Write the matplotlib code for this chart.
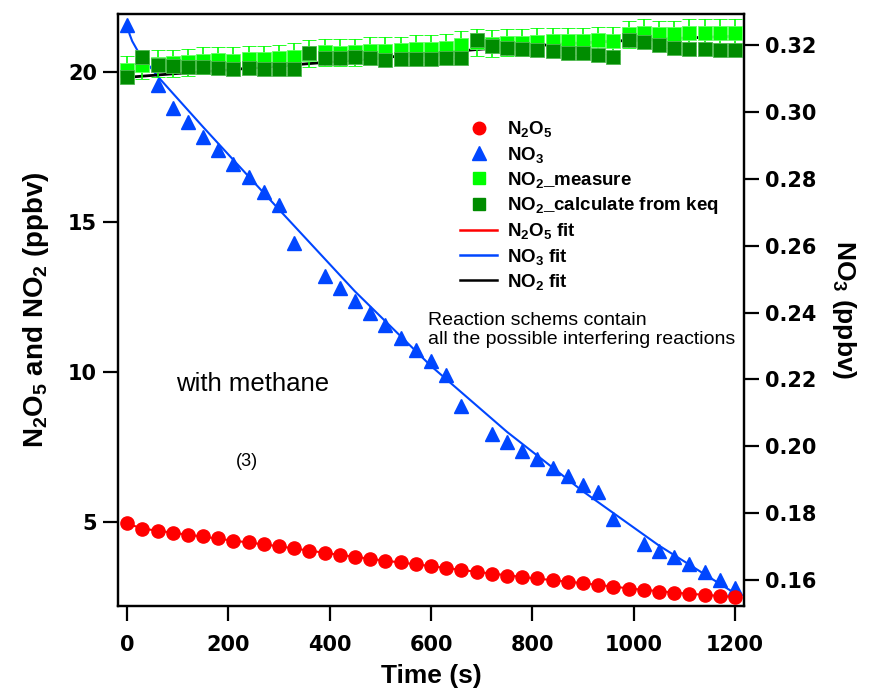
import matplotlib
matplotlib.use("Agg")
import matplotlib.pyplot as plt
from matplotlib.lines import Line2D
from matplotlib.font_manager import FontProperties

plt.rcParams['font.family'] = ['Liberation Sans', 'DejaVu Sans']
plt.rcParams['mathtext.default'] = 'regular'

# ---------------- data ----------------
time = [0, 30, 60, 90, 120, 150, 180, 210, 240, 270, 300, 330, 360, 390, 420, 450,
        480, 510, 540, 570, 600, 630, 660, 690, 720, 750, 780, 810, 840, 870, 900,
        930, 960, 990, 1020, 1050, 1080, 1110, 1140, 1170, 1200]

n2o5 = [4.95, 4.77, 4.71, 4.64, 4.58, 4.52, 4.45, 4.38, 4.32, 4.26, 4.20, 4.13,
        4.02, 3.95, 3.89, 3.83, 3.77, 3.71, 3.66, 3.60, 3.53, 3.46, 3.41, 3.34,
        3.28, 3.20, 3.16, 3.12, 3.06, 3.00, 2.97, 2.91, 2.85, 2.78, 2.72, 2.68,
        2.64, 2.61, 2.58, 2.55, 2.50]

no2_measure = [20.08, 20.23, 20.28, 20.29, 20.33, 20.37, 20.39, 20.37, 20.43, 20.43,
               20.46, 20.51, 20.61, 20.66, 20.64, 20.66, 20.71, 20.71, 20.72, 20.77,
               20.77, 20.80, 20.90, 20.99, 20.94, 20.97, 20.98, 21.00, 21.02, 21.03,
               21.03, 21.06, 21.04, 21.26, 21.30, 21.26, 21.26, 21.30, 21.30, 21.31,
               21.31]
no2_measure_err = [0.45] * 41

no2_calc = [19.82, 20.51, 20.23, 20.21, 20.18, 20.16, 20.14, 20.11, 20.12, 20.09,
            20.10, 20.10, 20.62, 20.47, 20.47, 20.49, 20.46, 20.41, 20.44, 20.44,
            20.44, 20.47, 20.47, 21.07, 20.87, 20.80, 20.78, 20.73, 20.69, 20.64,
            20.64, 20.57, 20.50, 21.07, 20.99, 20.89, 20.80, 20.78, 20.78, 20.73,
            20.73]

no3_time = [0, 60, 90, 120, 150, 180, 210, 240, 270, 300, 330, 390, 420, 450, 480,
            510, 540, 570, 600, 630, 660, 720, 750, 780, 810, 840, 870, 900, 930,
            960, 1020, 1050, 1080, 1110, 1140, 1170, 1200]
no3 = [0.3260, 0.3081, 0.3011, 0.2969, 0.2926, 0.2886, 0.2845, 0.2805, 0.2762,
       0.2722, 0.2608, 0.2508, 0.2474, 0.2434, 0.2399, 0.2364, 0.2324, 0.2287,
       0.2255, 0.2212, 0.2120, 0.2036, 0.2013, 0.1986, 0.1961, 0.1936, 0.1911,
       0.1884, 0.1862, 0.1782, 0.1707, 0.1687, 0.1668, 0.1648, 0.1625, 0.1601,
       0.1575]

fit_time_no3 = [0, 5, 10, 20, 40, 60, 150, 300, 450, 600, 750, 900, 1050, 1200]
no3_fit = [0.3260, 0.3232, 0.3212, 0.3185, 0.3145, 0.3107, 0.2955, 0.2708, 0.2463,
           0.2240, 0.2043, 0.1865, 0.1703, 0.1560]

fit_time = [0, 30, 100, 200, 300, 400, 500, 600, 700, 800, 900, 1000, 1100, 1200]
n2o5_fit = [4.95, 4.78, 4.62, 4.40, 4.19, 3.95, 3.73, 3.53, 3.32, 3.13, 2.96, 2.77,
            2.62, 2.50]
no2_fit_time = [0, 100, 200, 300, 400, 500, 600, 700, 800, 900, 1000, 1100, 1200]
no2_fit = [19.82, 19.95, 20.07, 20.20, 20.33, 20.47, 20.62, 20.76, 20.87, 20.97,
           21.06, 21.13, 21.19]

xticks = [0, 200, 400, 600, 800, 1000, 1200]
left_ticks = [5, 10, 15, 20]
right_ticks = [0.16, 0.18, 0.20, 0.22, 0.24, 0.26, 0.28, 0.30, 0.32]

# ---------------- colours ----------------
RED = '#ff0000'
BLUE = '#0046ff'
LIME = '#00ff00'
DKGREEN = '#008c00'

# ---------------- figure ----------------
fig = plt.figure(figsize=(8.78, 6.91), dpi=100)
ax_r = fig.add_axes([0.1344, 0.123, 0.7130, 0.8567])   # host: NO3 (right scale)
ax_l = ax_r.twinx()                                     # N2O5 / NO2 (left scale)

# right-scale (NO3) on host axes, drawn underneath
ax_r.plot(fit_time_no3, no3_fit, color=BLUE, lw=1.5, zorder=2)
ax_r.plot(no3_time, no3, linestyle='none', marker='^', ms=10.5, color=BLUE,
          mec=BLUE, zorder=3)

# left-scale data
ax_l.plot(fit_time, n2o5_fit, color=RED, lw=1.5, zorder=2)
ax_l.plot(time, n2o5, linestyle='none', marker='o', ms=9.5, color=RED, mec=RED, zorder=3)
ax_l.plot(no2_fit_time, no2_fit, color='black', lw=2, zorder=2)
ax_l.errorbar(time, no2_measure, yerr=no2_measure_err, fmt='s', ms=10.5,
              color=LIME, mec='#66ff66', mew=0.6, ecolor=LIME, elinewidth=1.2,
              capsize=5, capthick=1.2, zorder=3)
ax_l.plot(time, no2_calc, linestyle='none', marker='s', ms=10, color=DKGREEN,
          mec='#4fb84f', mew=0.6, zorder=4)

# axes config
ax_r.set_xlim(-18, 1218)
ax_r.set_ylim(0.1522, 0.3293)
ax_l.set_ylim(2.2, 21.93)

ax_r.yaxis.tick_right()
ax_r.yaxis.set_label_position('right')
ax_l.yaxis.tick_left()
ax_l.yaxis.set_label_position('left')

ax_r.set_xticks(xticks)
ax_r.set_yticks(right_ticks)
ax_r.set_yticklabels([f'{v:.2f}' for v in right_ticks])
ax_l.set_yticks(left_ticks)

tickfont = FontProperties(family='DejaVu Sans', weight='bold', size=15)
for axis in (ax_r, ax_l):
    axis.tick_params(axis='both', direction='out', length=11, width=1.6)
    axis.tick_params(axis='y', pad=4)
    axis.tick_params(axis='x', pad=10)
    for lab in axis.get_xticklabels() + axis.get_yticklabels():
        lab.set_fontproperties(tickfont)
    for sp in axis.spines.values():
        sp.set_linewidth(1.6)

ax_r.set_xlabel('Time (s)', fontsize=19, fontweight='bold', labelpad=6)
ax_l.set_ylabel('N$_2$O$_5$ and NO$_2$ (ppbv)', fontsize=20, fontweight='bold', labelpad=12)
ax_r.set_ylabel('NO$_3$ (ppbv)', fontsize=19, fontweight='bold', rotation=270,
                labelpad=30)

# legend
handles = [
    Line2D([], [], linestyle='none', marker='o', ms=9, color=RED),
    Line2D([], [], linestyle='none', marker='^', ms=10, color=BLUE),
    Line2D([], [], linestyle='none', marker='s', ms=9, color=LIME),
    Line2D([], [], linestyle='none', marker='s', ms=9, color=DKGREEN),
    Line2D([], [], color=RED, lw=1.8),
    Line2D([], [], color=BLUE, lw=1.8),
    Line2D([], [], color='black', lw=1.8),
]
labels = ['N$_2$O$_5$', 'NO$_3$', 'NO$_2$_measure', 'NO$_2$_calculate from keq',
          'N$_2$O$_5$ fit', 'NO$_3$ fit', 'NO$_2$ fit']
leg = ax_l.legend(handles, labels, loc='upper left', bbox_to_anchor=(0.546, 0.822),
                  frameon=False, prop=dict(family='Liberation Sans', weight='bold', size=13.5),
                  handlelength=2.0, handletextpad=0.5, labelspacing=0.28,
                  borderaxespad=0, borderpad=0)
leg.set_zorder(10)

# annotations
ax_l.text(594, 11.4, 'Reaction schems contain\nall the possible interfering reactions',
          fontsize=14, va='center', ha='left', linespacing=1.15, zorder=10)
ax_l.text(247, 9.6, 'with methane', fontsize=18.5, ha='center', va='center')
ax_l.text(237, 7.0, '(3)', fontsize=13, ha='center', va='center')

fig.savefig('out.png', dpi=100)
